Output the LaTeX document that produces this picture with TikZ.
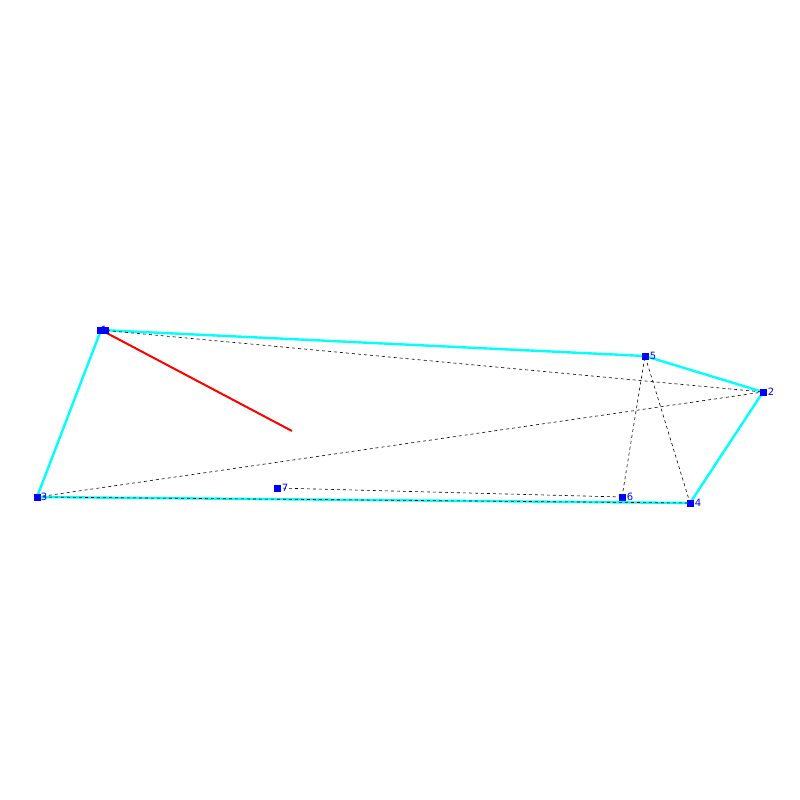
\documentclass[tikz,border=0pt]{standalone}
\usepackage{fontspec}
\setsansfont{DejaVu Sans}
\definecolor{cy}{RGB}{0,255,255}
\definecolor{bl}{RGB}{0,0,255}
\definecolor{rd}{RGB}{255,0,0}
\begin{document}
\begin{tikzpicture}[x=1pt,y=-1pt,
  pt/.style={fill=bl,draw=none,minimum size=7pt,inner sep=0pt,rectangle},
  lab/.style={text=bl,font=\sffamily\fontsize{10}{10}\selectfont,inner sep=0pt,anchor=west},
  edge/.style={cy,line width=2.4pt},
  aux/.style={black,line width=0.6pt,dash pattern=on 3pt off 3pt},
  redl/.style={rd,line width=2pt}]
\useasboundingbox (0,0) rectangle (800,800);
\coordinate (r) at (292,431);
\node[pt] (n1) at (101,330) {};
\node[pt] (n2) at (763,392) {};
\node[pt] (n3) at (37,497) {};
\node[pt] (n4) at (690,503) {};
\node[pt] (n5) at (645,356) {};
\node[pt] (n6) at (622,497) {};
\node[pt] (n7) at (277,488) {};
\draw[edge] (n1.center) -- (n5.center) -- (n2.center) -- (n4.center) -- (n3.center) -- cycle;
\draw[aux] (n1.center) -- (n2.center);
\draw[aux] (n3.center) -- (n2.center);
\draw[aux] (n3.center) -- (n4.center);
\draw[aux] (n7.center) -- (n6.center);
\draw[aux] (n6.center) -- (n5.center) -- (n4.center);
\draw[redl] (n1.center) -- (r);
\foreach \n in {2,...,7} {\node[pt] at (n\n) {};}
\node[pt,minimum width=12pt] at ([xshift=2pt]n1.center) {};
\node[lab] (l1) at ([xshift=-4pt]n1.east) {1};
\node[lab] (l2) at ([xshift=1pt]n2.east) {2};
\node[lab] (l3) at ([xshift=0pt]n3.east) {3};
\node[lab] (l4) at ([xshift=1pt]n4.east) {4};
\node[lab] (l5) at ([xshift=1pt]n5.east) {5};
\node[lab] (l6) at ([xshift=1pt]n6.east) {6};
\node[lab] (l7) at ([xshift=1pt]n7.east) {7};
\end{tikzpicture}
\end{document}
